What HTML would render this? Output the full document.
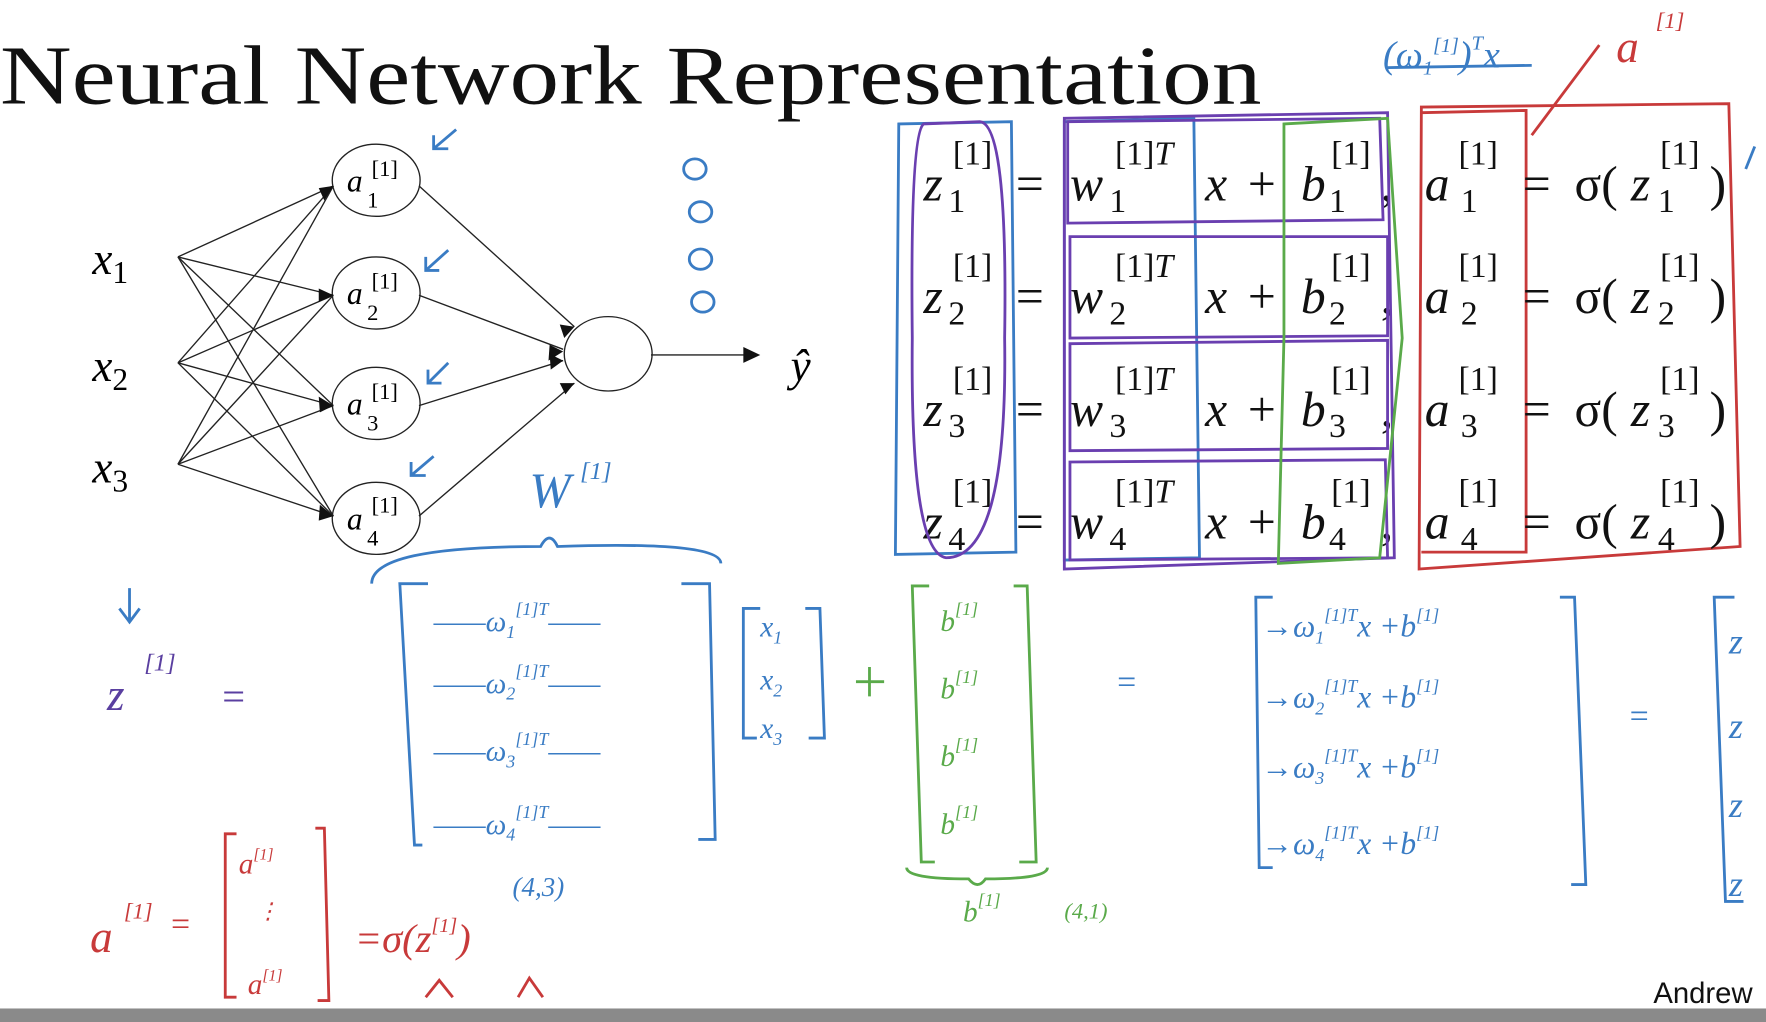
<!DOCTYPE html>
<html><head><meta charset="utf-8"><style>
html,body{margin:0;padding:0;background:#fff;overflow:hidden}
svg{display:block}
text{font-family:"Liberation Serif",serif}
.h{font-family:"Liberation Sans",sans-serif;font-size:26px}
.e{font-style:italic;font-size:44px}
.n{font-style:normal}
.s{font-size:30px;font-style:normal}
</style></head><body>
<svg width="1766" height="1022" viewBox="0 0 1568 907" preserveAspectRatio="none" xmlns="http://www.w3.org/2000/svg">
<rect width="1568" height="907" fill="#fff"/>
<text x="0" y="92" font-size="74" fill="#111" textLength="1120" lengthAdjust="spacingAndGlyphs">Neural Network Representation</text>
<!-- network -->
<g stroke="#222" stroke-width="1.2" fill="none">
<line x1="158" y1="228" x2="296" y2="165"/><line x1="158" y1="228" x2="296" y2="262"/><line x1="158" y1="228" x2="296" y2="360"/><line x1="158" y1="228" x2="296" y2="458"/>
<line x1="158" y1="322" x2="296" y2="165"/><line x1="158" y1="322" x2="296" y2="262"/><line x1="158" y1="322" x2="296" y2="360"/><line x1="158" y1="322" x2="296" y2="458"/>
<line x1="158" y1="412" x2="296" y2="165"/><line x1="158" y1="412" x2="296" y2="262"/><line x1="158" y1="412" x2="296" y2="360"/><line x1="158" y1="412" x2="296" y2="458"/>
<line x1="372" y1="165" x2="510" y2="290"/><line x1="372" y1="262" x2="500" y2="310"/><line x1="372" y1="360" x2="500" y2="320"/><line x1="372" y1="458" x2="510" y2="340"/>
<line x1="578" y1="315" x2="670" y2="315"/>
<ellipse cx="334" cy="160" rx="39" ry="32"/><ellipse cx="334" cy="260" rx="39" ry="32"/><ellipse cx="334" cy="358" rx="39" ry="32"/><ellipse cx="334" cy="460" rx="39" ry="32"/>
<ellipse cx="540" cy="314" rx="39" ry="33"/>
</g>
<polygon points="675,315 660,308 660,322" fill="#111"/>
<g fill="#111">
<polygon points="296,165 283,167 288,178"/><polygon points="296,262 283,256 283,268"/><polygon points="296,360 283,352 284,366"/><polygon points="296,458 284,448 283,462"/>
<polygon points="510,290 497,288 501,300"/><polygon points="500,312 488,306 487,320"/><polygon points="500,320 488,314 489,328"/><polygon points="510,340 497,340 502,350"/>
</g>
<text font-size="40" font-style="italic" x="82" y="243">x<tspan font-size="28" font-style="normal" dy="8">1</tspan></text>
<text font-size="40" font-style="italic" x="82" y="338">x<tspan font-size="28" font-style="normal" dy="8">2</tspan></text>
<text font-size="40" font-style="italic" x="82" y="428">x<tspan font-size="28" font-style="normal" dy="8">3</tspan></text>
<text font-size="40" font-style="italic" x="702" y="338">ŷ</text>
<g font-size="28" font-style="italic">
<text x="308" y="170">a</text><text x="308" y="270">a</text><text x="308" y="368">a</text><text x="308" y="470">a</text></g>
<g font-size="20"><text x="330" y="156">[1]</text><text x="330" y="256">[1]</text><text x="330" y="354">[1]</text><text x="330" y="455">[1]</text>
<text x="326" y="184">1</text><text x="326" y="284">2</text><text x="326" y="382">3</text><text x="326" y="484">4</text></g>
<!-- blue marks -->
<g stroke="#3a7cc4" stroke-width="2.5" fill="none">
<path d="M405 115 L385 132 M385 120 L385 132 L398 132"/><path d="M398 222 L378 240 M378 228 L378 240 L390 240"/>
<path d="M398 322 L380 340 M380 328 L380 340 L392 340"/><path d="M385 405 L365 422 M365 410 L365 422 L378 422"/>
<ellipse cx="617" cy="150" rx="10" ry="9"/><ellipse cx="622" cy="188" rx="10" ry="9"/><ellipse cx="622" cy="230" rx="10" ry="9"/><ellipse cx="624" cy="268" rx="10" ry="9"/>
<path d="M330 518 Q330 485 480 485 Q488 470 495 485 Q640 480 640 500"/>
<path d="M115 522 L115 550 M106 540 L115 552 L124 540"/>
<path d="M380 518 L355 518 L368 750 L375 750 M605 518 L630 518 L635 745 L620 745"/>
<path d="M675 540 L660 540 L660 655 L672 655 M715 540 L728 540 L732 655 L718 655"/>
<path d="M1130 530 L1115 530 L1118 770 L1130 770 M1385 530 L1398 530 L1408 785 L1395 785"/>
<path d="M1540 530 L1522 530 L1532 800 L1548 800"/>
<path d="M1232 60 L1360 58"/>
<path d="M1558 130 L1550 150"/>
</g>
<g fill="#3a7cc4" font-family="Liberation Sans" font-style="italic">
<text x="470" y="450" font-size="44">W</text><text x="515" y="425" font-size="22">[1]</text>
<text x="1228" y="60" font-size="34">(ω<tspan font-size="18" dy="6">1</tspan><tspan font-size="18" dy="-20">[1]</tspan><tspan dy="14">)</tspan><tspan font-size="18" dy="-16">T</tspan><tspan dy="16">x</tspan></text>
<text x="95" y="630" font-size="40" fill="#5a3fa0">z</text><text x="128" y="595" font-size="22" fill="#5a3fa0">[1]</text><text x="195" y="630" font-size="36" fill="#5a3fa0">=</text>
<text x="385" y="560" font-size="26">——ω<tspan font-size="16" dy="6">1</tspan><tspan font-size="16" dy="-20">[1]T</tspan><tspan dy="14">——</tspan></text>
<text x="385" y="615" font-size="26">——ω<tspan font-size="16" dy="6">2</tspan><tspan font-size="16" dy="-20">[1]T</tspan><tspan dy="14">——</tspan></text>
<text x="385" y="675" font-size="26">——ω<tspan font-size="16" dy="6">3</tspan><tspan font-size="16" dy="-20">[1]T</tspan><tspan dy="14">——</tspan></text>
<text x="385" y="740" font-size="26">——ω<tspan font-size="16" dy="6">4</tspan><tspan font-size="16" dy="-20">[1]T</tspan><tspan dy="14">——</tspan></text>
<text x="455" y="795" font-size="24">(4,3)</text>
<text x="675" y="565" font-size="26">x<tspan font-size="16" dy="6">1</tspan></text><text x="675" y="612" font-size="26">x<tspan font-size="16" dy="6">2</tspan></text><text x="675" y="655" font-size="26">x<tspan font-size="16" dy="6">3</tspan></text>
<text x="990" y="615" font-size="30">=</text><text x="1445" y="645" font-size="30">=</text>
<text x="1120" y="565" font-size="28">→ω<tspan font-size="16" dy="6">1</tspan><tspan font-size="16" dy="-20">[1]T</tspan><tspan dy="14">x +b</tspan><tspan font-size="16" dy="-14">[1]</tspan></text>
<text x="1120" y="628" font-size="28">→ω<tspan font-size="16" dy="6">2</tspan><tspan font-size="16" dy="-20">[1]T</tspan><tspan dy="14">x +b</tspan><tspan font-size="16" dy="-14">[1]</tspan></text>
<text x="1120" y="690" font-size="28">→ω<tspan font-size="16" dy="6">3</tspan><tspan font-size="16" dy="-20">[1]T</tspan><tspan dy="14">x +b</tspan><tspan font-size="16" dy="-14">[1]</tspan></text>
<text x="1120" y="758" font-size="28">→ω<tspan font-size="16" dy="6">4</tspan><tspan font-size="16" dy="-20">[1]T</tspan><tspan dy="14">x +b</tspan><tspan font-size="16" dy="-14">[1]</tspan></text>
<text x="1535" y="580" font-size="32">z</text><text x="1535" y="655" font-size="32">z</text><text x="1535" y="725" font-size="32">z</text><text x="1535" y="795" font-size="32">z</text>
</g>
<!-- green -->
<g stroke="#5aaa4a" stroke-width="2.5" fill="none">
<path d="M825 520 L810 520 L818 765 L830 765 M900 520 L912 520 L920 765 L905 765"/>
<path d="M805 770 Q805 780 860 780 Q868 790 875 780 Q930 780 930 770"/>
<path d="M760 605 L785 605 M772 592 L772 618"/>
</g>
<g fill="#5aaa4a" font-family="Liberation Sans" font-style="italic" font-size="26">
<text x="835" y="560">b<tspan font-size="16" dy="-14">[1]</tspan></text><text x="835" y="620">b<tspan font-size="16" dy="-14">[1]</tspan></text>
<text x="835" y="680">b<tspan font-size="16" dy="-14">[1]</tspan></text><text x="835" y="740">b<tspan font-size="16" dy="-14">[1]</tspan></text>
<text x="855" y="818">b<tspan font-size="16" dy="-14">[1]</tspan></text><text x="945" y="815" font-size="20">(4,1)</text>
</g>
<!-- red -->
<g fill="#c83a3a" font-family="Liberation Sans" font-style="italic">
<text x="1435" y="55" font-size="40">a</text><text x="1470" y="25" font-size="20">[1]</text>
<text x="80" y="845" font-size="40">a</text><text x="110" y="815" font-size="20">[1]</text><text x="150" y="830" font-size="30">=</text>
<text x="212" y="775" font-size="26">a<tspan font-size="14" dy="-12">[1]</tspan></text><text x="228" y="815" font-size="20">⋮</text><text x="220" y="882" font-size="26">a<tspan font-size="14" dy="-12">[1]</tspan></text>
<text x="315" y="845" font-size="36">=σ(z<tspan font-size="18" dy="-18">[1]</tspan><tspan dy="18">)</tspan></text>
</g>
<g stroke="#c83a3a" stroke-width="2.5" fill="none">
<path d="M210 740 L200 740 L200 885 L210 885 M280 735 L288 735 L292 888 L282 888"/>
<path d="M1420 40 L1360 120"/>
<path d="M1262 95 L1535 92 L1545 485 L1260 505 Z"/>
<path d="M1262 100 L1355 98 L1355 490 L1262 490"/>
<path d="M378 885 L390 870 L402 885 M460 885 L470 868 L482 885"/>
</g>
<!-- equations -->
<g fill="#111">
<g>
<text class="e" x="820" y="178">z</text><text class="s" x="846" y="146">[1]</text><text class="s" x="842" y="188">1</text>
<text class="e n" x="902" y="178">=</text>
<text class="e" x="950" y="178">w</text><text class="s" x="990" y="146">[1]<tspan font-style="italic">T</tspan></text><text class="s" x="985" y="188">1</text>
<text class="e" x="1070" y="178">x</text><text class="e n" x="1108" y="178">+</text>
<text class="e" x="1155" y="178">b</text><text class="s" x="1182" y="146">[1]</text><text class="s" x="1180" y="188">1</text><text class="e n" x="1226" y="178">,</text>
<text class="e" x="1265" y="178">a</text><text class="s" x="1295" y="146">[1]</text><text class="s" x="1297" y="188">1</text>
<text class="e n" x="1352" y="178">=</text><text class="e n" x="1398" y="178">σ(</text>
<text class="e" x="1448" y="178">z</text><text class="s" x="1474" y="146">[1]</text><text class="s" x="1472" y="188">1</text><text class="e n" x="1518" y="178">)</text>
</g>
<g transform="translate(0,100)">
<text class="e" x="820" y="178">z</text><text class="s" x="846" y="146">[1]</text><text class="s" x="842" y="188">2</text>
<text class="e n" x="902" y="178">=</text>
<text class="e" x="950" y="178">w</text><text class="s" x="990" y="146">[1]<tspan font-style="italic">T</tspan></text><text class="s" x="985" y="188">2</text>
<text class="e" x="1070" y="178">x</text><text class="e n" x="1108" y="178">+</text>
<text class="e" x="1155" y="178">b</text><text class="s" x="1182" y="146">[1]</text><text class="s" x="1180" y="188">2</text><text class="e n" x="1226" y="178">,</text>
<text class="e" x="1265" y="178">a</text><text class="s" x="1295" y="146">[1]</text><text class="s" x="1297" y="188">2</text>
<text class="e n" x="1352" y="178">=</text><text class="e n" x="1398" y="178">σ(</text>
<text class="e" x="1448" y="178">z</text><text class="s" x="1474" y="146">[1]</text><text class="s" x="1472" y="188">2</text><text class="e n" x="1518" y="178">)</text>
</g>
<g transform="translate(0,200)">
<text class="e" x="820" y="178">z</text><text class="s" x="846" y="146">[1]</text><text class="s" x="842" y="188">3</text>
<text class="e n" x="902" y="178">=</text>
<text class="e" x="950" y="178">w</text><text class="s" x="990" y="146">[1]<tspan font-style="italic">T</tspan></text><text class="s" x="985" y="188">3</text>
<text class="e" x="1070" y="178">x</text><text class="e n" x="1108" y="178">+</text>
<text class="e" x="1155" y="178">b</text><text class="s" x="1182" y="146">[1]</text><text class="s" x="1180" y="188">3</text><text class="e n" x="1226" y="178">,</text>
<text class="e" x="1265" y="178">a</text><text class="s" x="1295" y="146">[1]</text><text class="s" x="1297" y="188">3</text>
<text class="e n" x="1352" y="178">=</text><text class="e n" x="1398" y="178">σ(</text>
<text class="e" x="1448" y="178">z</text><text class="s" x="1474" y="146">[1]</text><text class="s" x="1472" y="188">3</text><text class="e n" x="1518" y="178">)</text>
</g>
<g transform="translate(0,300)">
<text class="e" x="820" y="178">z</text><text class="s" x="846" y="146">[1]</text><text class="s" x="842" y="188">4</text>
<text class="e n" x="902" y="178">=</text>
<text class="e" x="950" y="178">w</text><text class="s" x="990" y="146">[1]<tspan font-style="italic">T</tspan></text><text class="s" x="985" y="188">4</text>
<text class="e" x="1070" y="178">x</text><text class="e n" x="1108" y="178">+</text>
<text class="e" x="1155" y="178">b</text><text class="s" x="1182" y="146">[1]</text><text class="s" x="1180" y="188">4</text><text class="e n" x="1226" y="178">,</text>
<text class="e" x="1265" y="178">a</text><text class="s" x="1295" y="146">[1]</text><text class="s" x="1297" y="188">4</text>
<text class="e n" x="1352" y="178">=</text><text class="e n" x="1398" y="178">σ(</text>
<text class="e" x="1448" y="178">z</text><text class="s" x="1474" y="146">[1]</text><text class="s" x="1472" y="188">4</text><text class="e n" x="1518" y="178">)</text>
</g>
</g>
<!-- boxes -->
<g fill="none" stroke-width="2.5">
<path stroke="#3a7cc4" d="M798 110 L898 108 L902 490 L795 492 Z"/>
<path stroke="#6a3fb0" d="M820 110 Q808 120 810 300 Q808 490 840 495 Q895 495 892 300 Q895 110 870 108 Z"/>
<path stroke="#3a7cc4" d="M945 108 L1060 105 L1065 495 L945 497 Z"/>
<path stroke="#6a3fb0" d="M945 105 L1232 100 L1238 495 L945 505 Z"/>
<path stroke="#6a3fb0" d="M948 108 L1225 105 L1228 195 L948 198 Z M950 210 L1232 210 L1232 298 L950 300 Z M950 305 L1232 302 L1232 398 L950 400 Z M950 410 L1230 408 L1232 495 L950 497 Z"/>
<path stroke="#5aaa4a" d="M1140 110 L1232 105 L1245 300 L1225 495 L1135 500 L1140 300 Z"/>
</g>
<text x="1468" y="890" class="h" fill="#111">Andrew</text>
<rect x="0" y="895" width="1568" height="12" fill="#8a8a8a"/>
</svg>
</body></html>
